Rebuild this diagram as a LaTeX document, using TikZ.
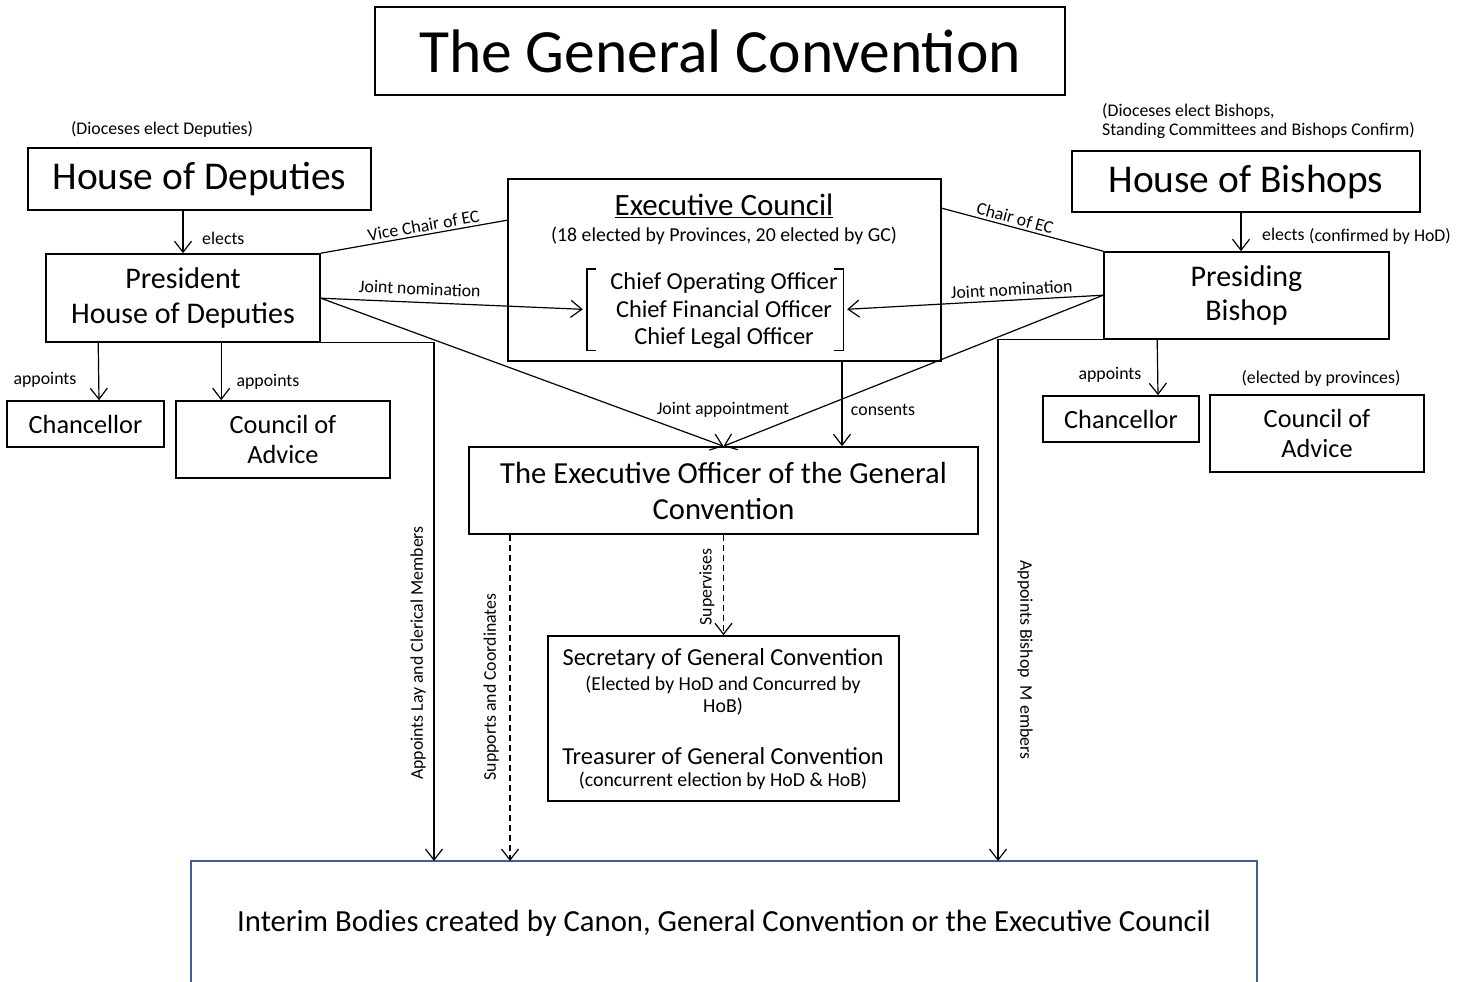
\documentclass[tikz,border=0pt]{standalone}
\usepackage{fontspec}
\setmainfont{Carlito}
\usetikzlibrary{arrows.meta}
\definecolor{ibblue}{RGB}{58,95,155}
\begin{document}
\begin{tikzpicture}[x=1pt,y=-1pt,
 box/.style={draw, line width=1.6pt, inner sep=0pt, align=center},
 conn/.style={line width=1.2pt},
 arr/.style={conn, -{Straight Barb[length=11pt,width=17pt,line width=1.2pt]}},
 darr/.style={arr, dash pattern=on 6pt off 4pt},
 lbl/.style={inner sep=0pt, font=\fontsize{17.8}{19}\selectfont},
 slbl/.style={inner sep=2.5pt, font=\fontsize{17.8}{19}\selectfont, sloped, above},
 txt/.style={inner sep=0pt, align=center}]
\useasboundingbox (0,0) rectangle (1472,982);
\fill[white] (0,0) rectangle (1472,982);

% title
\node[box, minimum width=690pt, minimum height=88pt, font=\fontsize{61.5}{70}\selectfont] (title) at (720,51) {The General Convention};

% left side
\node[lbl] (hodnote) at (162,129) {(Dioceses elect Deputies)};
\node[box, minimum width=343pt, minimum height=62pt, font=\fontsize{39.4}{44}\selectfont] (hod) at (199.5,179) {House of Deputies};
\node[box, minimum width=274pt, minimum height=88pt, font=\fontsize{30}{35}\selectfont] (pres) at (183,298) {President\\House of Deputies};
\node[box, minimum width=157pt, minimum height=46pt, font=\fontsize{26.3}{30}\selectfont] (chanL) at (85.5,424) {Chancellor};
\node[box, minimum width=214pt, minimum height=77pt, font=\fontsize{26.3}{30}\selectfont] (coaL) at (283,439.5) {Council of\\Advice};

% executive council
\node[box, minimum width=433pt, minimum height=182pt] (ec) at (724.5,270) {};
\node[txt, font=\fontsize{31}{34}\selectfont] (ectitle) at (724,206) {\underline{Executive Council}};
\node[txt, font=\fontsize{19.8}{22}\selectfont] (ecsub) at (724,236) {(18 elected by Provinces, 20 elected by GC)};
\node[minimum width=256pt, minimum height=81pt, inner sep=0pt] (brk) at (715,309.5) {};
\node[txt, font=\fontsize{24.4}{27.5}\selectfont] (chiefs) at (724,311) {Chief Operating Officer\\Chief Financial Officer\\Chief Legal Officer};
\draw[line width=1.4pt] ([xshift=9pt]brk.north west) -- (brk.north west) -- (brk.south west) -- ([xshift=9pt]brk.south west);
\draw[line width=1.4pt] ([xshift=-9pt]brk.north east) -- (brk.north east) -- (brk.south east) -- ([xshift=-9pt]brk.south east);

% right side
\node[lbl, align=left, anchor=west] (hobnote) at (1102,121.5) {(Dioceses elect Bishops,\\Standing Committees and Bishops Confirm)};
\node[box, minimum width=348pt, minimum height=61pt, font=\fontsize{39.4}{44}\selectfont] (hob) at (1246,181.5) {House of Bishops};
\node[box, minimum width=285pt, minimum height=87pt, font=\fontsize{30}{34}\selectfont] (pb) at (1246.5,295.5) {Presiding\\Bishop};
\node[box, minimum width=156pt, minimum height=46pt, font=\fontsize{26.3}{30}\selectfont] (chanR) at (1121,419) {Chancellor};
\node[box, minimum width=214pt, minimum height=77pt, font=\fontsize{26.3}{30}\selectfont] (coaR) at (1317,433.5) {Council of\\Advice};
\node[lbl] (coaRnote) at (1321,378) {(elected by provinces)};

% executive officer
\node[box, minimum width=509pt, minimum height=87pt, font=\fontsize{30.6}{36}\selectfont] (eo) at (723.5,490.5) {The Executive Officer of the General\\Convention};

% secretary / treasurer
\node[box, minimum width=351pt, minimum height=165pt] (sec) at (723.5,718.5) {};
\node[txt, font=\fontsize{24.4}{26}\selectfont] (sec1) at (723,659) {Secretary of General Convention};
\node[txt, font=\fontsize{19.8}{22}\selectfont] (sec2) at (723,696) {(Elected by HoD and Concurred by\\HoB)};
\node[txt, font=\fontsize{24.4}{26}\selectfont] (sec3) at (723,756) {Treasurer of General Convention};
\node[txt, font=\fontsize{19.8}{22}\selectfont] (sec4) at (723,781) {(concurrent election by HoD \& HoB)};

% interim bodies
\draw[line width=1.6pt, draw=ibblue] (191,982) -- (191,861) -- (1257,861) -- (1257,982);
\node[txt, font=\fontsize{30.7}{34}\selectfont] (interim) at (724,923) {Interim Bodies created by Canon, General Convention or the Executive Council};
\coordinate (i1) at (434,861);
\coordinate (i2) at (510,861);
\coordinate (i3) at (998,861);

% connectors left
\draw[arr] (pres.north |- hod.south) -- (pres.north);
\node[lbl, anchor=west] (el1) at (202,238) {elects};
\draw[arr] ([xshift=53pt]pres.south west) -- ([xshift=13.5pt]chanL.north);
\node[lbl] (ap1) at (45,380) {appoints};
\draw[arr] ([xshift=176pt]pres.south west) -- ([xshift=46pt]coaL.north west);
\node[lbl] (ap2) at (268,382) {appoints};
\draw[conn] (pres.north east) -- node[slbl, pos=0.56] (vc) {Vice Chair of EC} ([yshift=-42pt]ec.north west);
\coordinate (pj) at ([yshift=-45pt]pres.north east);
\draw[arr, shorten >=4pt] (pj) -- node[slbl, pos=0.37, inner sep=7pt] (jn1) {Joint nomination} (brk.west);

% connectors right
\coordinate (bj) at ([yshift=-44pt]pb.north west);
\draw[arr, shorten >=4pt] (bj) -- node[slbl, pos=0.35, inner sep=4pt] (jn2) {Joint nomination} (brk.east);
\draw[conn] ([yshift=-30pt]ec.north east) -- node[slbl, pos=0.44] (ch) {Chair of EC} (pb.north west);
\draw[arr] ([xshift=-5pt]hob.south) -- ([xshift=-5.5pt]pb.north);
\node[lbl, anchor=west] (el2) at (1262,234) {elects};
\node[lbl] (conf) at (1380,236) {(confirmed by HoD)};
\draw[arr] ([xshift=54pt]pb.south west) -- ([xshift=37pt]chanR.north);
\node[lbl] (ap3) at (1110,375) {appoints};

% joint appointment, consents
\draw[arr] (pj) -- (eo.north);
\draw[arr] (bj) -- (eo.north);
\node[lbl] (ja) at (723,410) {Joint appointment};
\draw[arr] ([xshift=117.5pt]ec.south) -- ([xshift=118.5pt]eo.north);
\node[lbl] (cons) at (883,410) {consents};

% down to interim bodies
\draw[arr] (pres.south east) -| (i1);
\draw[arr] (pb.south west) -| (i3);
\draw[darr] (i2 |- eo.south) -- (i2);
\draw[darr] (eo.south) -- (sec.north);
\node[lbl, rotate=90] (al) at (418,653) {Appoints Lay and Clerical Members};
\node[lbl, rotate=90] (sc) at (491,687) {Supports and Coordinates};
\node[lbl, rotate=90] (sv) at (707,587) {Supervises};
\node[lbl, rotate=-90] (ab) at (1025,660) {Appoints Bishop\ \ M embers};
\end{tikzpicture}
\end{document}
